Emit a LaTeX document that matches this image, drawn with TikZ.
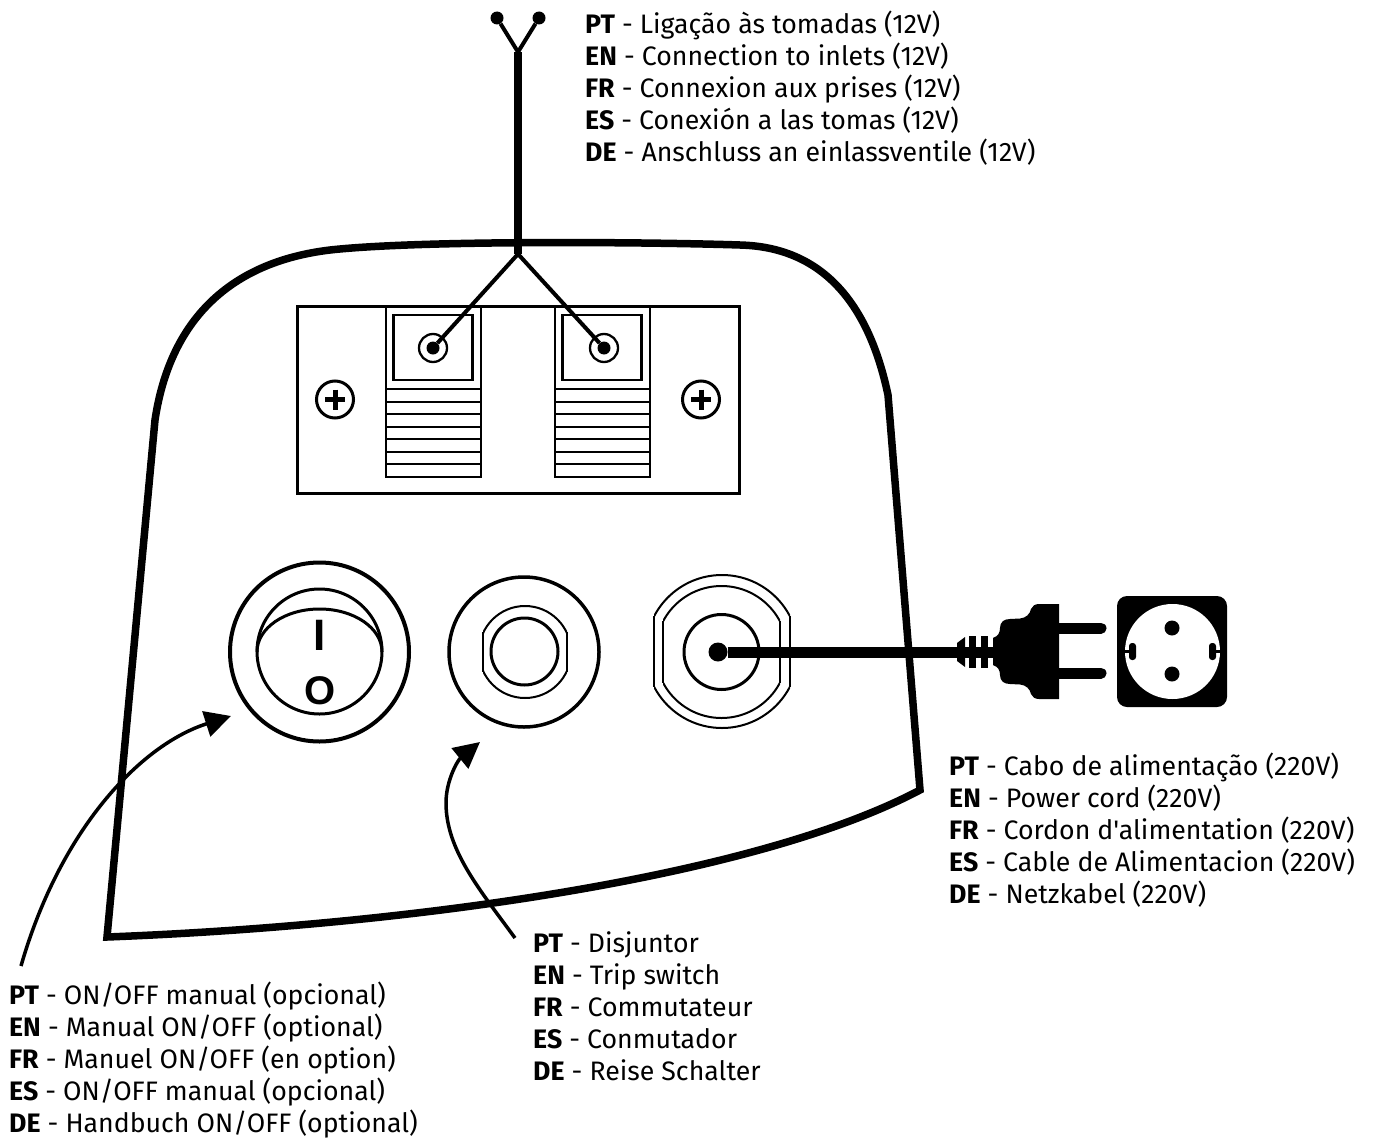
\documentclass[tikz,border=0pt]{standalone}
\usepackage{fontspec}
\newfontfamily\labelfont{Fira Sans}
\newfontfamily\knobfont{Liberation Sans}
\usetikzlibrary{arrows.meta}

\begin{document}
\begin{tikzpicture}[x=1pt,y=-1pt,
            label_style/.style={anchor=north west, align=left, inner sep=0pt, font=\labelfont\fontsize{26.7}{32}\selectfont},
            knob_style/.style={inner sep=0pt, font=\knobfont\bfseries},
            dot_style/.style={circle, fill=black, inner sep=0pt, minimum width=#1},
            wire_style/.style={draw=black, line width=4pt},
            arrow_style/.style={draw=black, line width=3.5pt, -{Triangle[length=26pt,width=26pt]}}]
            \useasboundingbox (0,0) rectangle (1378,1140);
            % casing
            \draw[line width=7.5pt, line join=miter] (920,790) -- (888,395)
                .. controls (868,300) and (820,247) .. (740,245)
                .. controls (650,242) and (420,240) .. (330,250)
                .. controls (230,262) and (170,320) .. (155,420)
                -- (107,937) .. controls (420,925) and (760,875) .. cycle;
            % terminal block
            \draw[line width=3pt] (297,306) rectangle (739,493);
            \foreach \xa in {386,555} {
                \draw[line width=2.3pt] (\xa,306) rectangle +(95,171);
                \draw[line width=2.3pt] (\xa+7.5,315) rectangle +(79,65);
                \foreach \ya in {389,402,414,427,439,452,464}
                    \draw[line width=2pt] (\xa,\ya) -- +(95,0);
            }
            \foreach \xa in {433,604}
                \draw[line width=2.3pt] (\xa,348) circle [radius=14pt];
            \foreach \xa in {335,701} {
                \draw[line width=3pt] (\xa,399.5) circle [radius=18.5pt];
                \draw[line width=5pt] (\xa-10,399.5) -- +(20,0);
                \draw[line width=5pt] (\xa,389.5) -- +(0,20);
            }
            % wires
            \node[dot_style=13pt] (tip_a) at (497,18){};
            \node[dot_style=13pt] (tip_b) at (539,18){};
            \coordinate (fork_top) at (518,52);
            \coordinate (fork_low) at (518,254);
            \node[dot_style=13pt] (post_a) at (433,348){};
            \node[dot_style=13pt] (post_b) at (604,348){};
            \draw[draw=black, line width=8pt] (fork_top) -- (fork_low);
            \draw[wire_style] (tip_a) -- (fork_top);
            \draw[wire_style] (tip_b) -- (fork_top);
            \draw[wire_style] (fork_low) -- (post_a);
            \draw[wire_style] (fork_low) -- (post_b);
            % rocker switch
            \draw[line width=4pt] (319.5,652) circle [radius=89.5pt];
            \draw[line width=3pt] (319.5,651.5) circle [radius=62.5pt];
            \draw[line width=3pt] (257,652) .. controls (257,628) and (285,609) .. (319.5,609)
                .. controls (354,609) and (382,628) .. (382,652);
            \node[knob_style, font=\knobfont\bfseries\fontsize{44}{44}\selectfont] (rocker_on) at (319.5,635){I};
            \node[knob_style, font=\knobfont\bfseries\fontsize{40}{40}\selectfont] (rocker_off) at (320,691){O};
            % trip switch
            \draw[line width=3.5pt] (524,652) circle [radius=75pt];
            \begin{scope}
                \clip (483,590) rectangle (567,714);
                \draw[line width=2pt] (525,652) circle [radius=46pt];
            \end{scope}
            \draw[line width=2pt] (483,632) -- (483,672);
            \draw[line width=2pt] (567,632) -- (567,672);
            \draw[line width=3pt] (524.5,651.5) circle [radius=33.5pt];
            % power socket
            \begin{scope}
                \clip (654,560) rectangle (790,745);
                \draw[line width=2pt] (722,651.5) circle [radius=76.5pt];
            \end{scope}
            \begin{scope}
                \clip (663,570) rectangle (780,735);
                \draw[line width=2pt] (721.5,652) circle [radius=66pt];
            \end{scope}
            \draw[line width=2pt] (654,616) -- (654,687);
            \draw[line width=2pt] (790,616) -- (790,687);
            \draw[line width=2pt] (663,621) -- (663,683);
            \draw[line width=2pt] (780,621) -- (780,683);
            \draw[line width=3pt] (721.5,652) circle [radius=37.5pt];
            % plug
            \node[dot_style=19pt] (cord_start) at (718,652){};
            \coordinate (cord_end) at (1000,652);
            \draw[draw=black, line width=11pt] (cord_start) -- (cord_end);
            \fill (957,643) -- (965,637) -- (965,667) -- (957,661) -- cycle;
            \fill (969,636) rectangle (976,668);
            \fill (981,636) rectangle (988,668);
            \fill (993,638) .. controls (998,636) and (1000,633) .. (1000,628)
                .. controls (1000,622) and (1004,619) .. (1010,619) -- (1020,618.5)
                .. controls (1026,618) and (1030,614) .. (1031,609)
                .. controls (1032,606) and (1035,604) .. (1039,604) -- (1059,604) -- (1059,699) -- (1039,699)
                .. controls (1035,699) and (1032,697) .. (1031,694)
                .. controls (1030,689) and (1026,685) .. (1020,684.5) -- (1010,684)
                .. controls (1004,684) and (1000,681) .. (1000,675)
                .. controls (1000,670) and (998,667) .. (993,665) -- cycle;
            \draw[line width=11pt, line cap=round] (1055,628) -- (1101,628);
            \draw[line width=11pt, line cap=round] (1055,673) -- (1101,673);
            % wall socket
            \fill[rounded corners=10pt] (1117,596) rectangle (1227,707);
            \fill[white] (1172.5,651.5) circle [radius=47.5pt];
            \fill (1172,628) circle [radius=7.5pt];
            \fill (1172,674) circle [radius=7.5pt];
            \fill[rounded corners=3pt] (1129,643) rectangle (1136,660);
            \fill[rounded corners=3pt] (1209,643) rectangle (1216,660);
            \draw[line width=2.5pt] (1124,651.5) -- (1130,651.5);
            \draw[line width=2.5pt] (1215,651.5) -- (1221,651.5);
            % arrows
            \coordinate (manual_tail) at (21,966);
            \coordinate (manual_head) at (231,716);
            \coordinate (trip_tail) at (515,938);
            \coordinate (trip_head) at (480,742);
            \draw[arrow_style] (manual_tail) .. controls (60,830) and (140,745) .. (manual_head);
            \draw[arrow_style] (trip_tail) .. controls (480,890) and (446,850) .. (446,803)
                .. controls (446,780) and (458,760) .. (trip_head);
            % labels
            \node[label_style] (inlet_text) at (585,11){\textbf{PT} - Ligação às tomadas (12V)\\\textbf{EN} - Connection to inlets (12V)\\\textbf{FR} - Connexion aux prises (12V)\\\textbf{ES} - Conexión a las tomas (12V)\\\textbf{DE} - Anschluss an einlassventile (12V)};
            \node[label_style] (cord_text) at (949,753){\textbf{PT} - Cabo de alimentação (220V)\\\textbf{EN} - Power cord (220V)\\\textbf{FR} - Cordon d'alimentation (220V)\\\textbf{ES} - Cable de Alimentacion (220V)\\\textbf{DE} - Netzkabel (220V)};
            \node[label_style] (trip_text) at (533,931){\textbf{PT} - Disjuntor\\\textbf{EN} - Trip switch\\\textbf{FR} - Commutateur\\\textbf{ES} - Conmutador\\\textbf{DE} - Reise Schalter};
            \node[label_style] (manual_text) at (9,982){\textbf{PT} - ON/OFF manual (opcional)\\\textbf{EN} - Manual ON/OFF (optional)\\\textbf{FR} - Manuel ON/OFF (en option)\\\textbf{ES} - ON/OFF manual (opcional)\\\textbf{DE} - Handbuch ON/OFF (optional)};
        \end{tikzpicture}
\end{document}
